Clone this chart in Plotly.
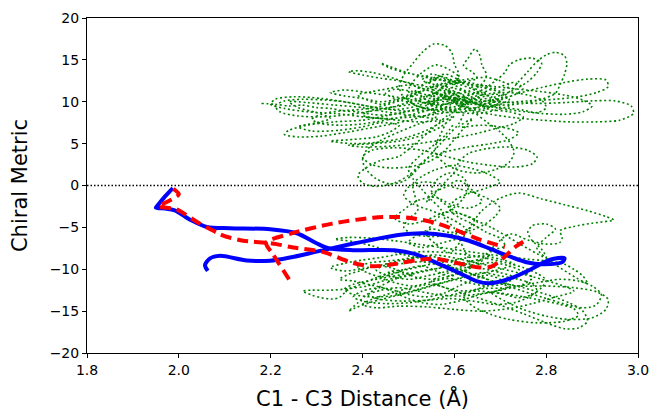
import plotly.graph_objects as go

# ---------------- data ----------------
x_ticks = [1.8, 2.0, 2.2, 2.4, 2.6, 2.8, 3.0]
y_ticks = [-20, -15, -10, -5, 0, 5, 10, 15, 20]

blue_path = [
    (1.987, -0.3), (1.97, -1.3), (1.955, -2.3), (1.95, -2.65), (1.97, -2.75), (1.991, -2.97),
    (2.027, -4.16), (2.061, -4.95), (2.111, -5.1), (2.199, -5.22), (2.257, -5.7), (2.3, -6.9),
    (2.326, -7.5), (2.379, -7.72), (2.469, -7.72), (2.515, -8.2), (2.56, -9.2), (2.605, -10.3),
    (2.65, -11.45), (2.677, -11.68), (2.722, -11.1), (2.767, -10.0), (2.794, -9.2), (2.817, -8.75),
    (2.84, -8.7), (2.835, -9.15), (2.79, -9.4), (2.76, -9.2), (2.722, -8.5), (2.68, -7.6),
    (2.632, -6.6), (2.587, -6.0), (2.533, -5.7), (2.478, -5.9), (2.424, -6.45), (2.37, -7.05),
    (2.3, -7.9), (2.242, -8.6), (2.199, -8.98), (2.148, -8.95), (2.09, -8.4), (2.068, -8.7),
    (2.057, -9.5), (2.063, -10.2),
]

red_path = [
    (1.988, -0.4), (2.0, -1.05), (1.955, -2.55), (1.966, -2.6), (1.995, -2.84), (2.01, -3.3),
    (2.039, -4.33), (2.061, -5.0), (2.086, -5.72), (2.104, -6.12), (2.14, -6.6), (2.162, -6.72),
    (2.191, -6.84), (2.213, -7.0), (2.249, -7.4), (2.315, -7.95), (2.379, -9.25), (2.424, -9.65),
    (2.478, -9.3), (2.515, -8.95), (2.56, -8.75), (2.605, -9.25), (2.65, -9.75), (2.68, -9.7),
    (2.706, -8.7), (2.731, -7.4), (2.758, -6.45),
    (None, None),
    (2.24, -11.2), (2.205, -8.2), (2.19, -6.85), (2.244, -5.74), (2.334, -4.55), (2.424, -3.84),
    (2.478, -3.76), (2.515, -3.96), (2.56, -4.48), (2.605, -5.35), (2.65, -6.34), (2.695, -7.13),
    (2.71, -7.35),
]

green_path = [
    # left tail into the upper cluster
    (2.18, 9.8), (2.21, 9.7), (2.24, 9.5), (2.27, 9.6), (2.30, 9.3), (2.33, 9.2), (2.36, 8.9),
    (2.39, 8.8), (2.42, 8.5), (2.45, 8.4), (2.48, 8.6), (2.51, 9.0), (2.54, 9.6), (2.56, 10.3),
    (2.58, 10.9), (2.60, 11.2), (2.62, 10.8), (2.63, 10.1), (2.61, 9.5), (2.58, 9.3), (2.55, 9.8),
    (2.53, 10.6), (2.52, 11.5), (2.54, 12.3), (2.57, 12.6), (2.60, 12.0), (2.62, 11.4), (2.65, 11.0),
    (2.68, 10.6), (2.70, 10.0), (2.68, 9.4), (2.64, 9.0), (2.60, 8.7), (2.56, 8.9),
    # loop to top peak
    (2.52, 9.5), (2.49, 10.5), (2.48, 11.8), (2.49, 13.2), (2.51, 14.6), (2.53, 15.9), (2.555, 16.9),
    (2.58, 16.7), (2.595, 15.8), (2.60, 14.5), (2.61, 13.2), (2.60, 12.0), (2.58, 11.0), (2.56, 10.2),
    (2.55, 9.5),
    # lower-left loops
    (2.50, 8.9), (2.45, 8.3), (2.40, 7.8), (2.34, 7.6), (2.28, 7.2), (2.24, 6.6), (2.23, 6.1),
    (2.26, 5.8), (2.31, 5.9), (2.36, 6.3), (2.41, 6.8), (2.46, 7.3), (2.51, 7.9), (2.55, 8.6),
    (2.59, 9.6), (2.61, 10.5),
    # upper-left loop
    (2.58, 11.3), (2.53, 11.9), (2.48, 12.5), (2.44, 12.8), (2.40, 13.2), (2.37, 13.6), (2.39, 13.7),
    (2.42, 13.5), (2.45, 13.1), (2.49, 12.4), (2.53, 11.6), (2.57, 10.8), (2.60, 10.2), (2.64, 9.7),
    (2.67, 9.8), (2.70, 10.4),
    # upper-right loop
    (2.72, 11.2), (2.74, 12.4), (2.76, 13.6), (2.78, 14.8), (2.80, 15.6), (2.82, 15.9), (2.84, 15.5),
    (2.845, 14.5), (2.84, 13.3), (2.83, 12.0), (2.82, 11.0), (2.79, 10.3), (2.75, 9.8), (2.70, 9.6),
    (2.65, 9.9), (2.60, 10.4),
    # dense core
    (2.57, 10.9), (2.55, 11.6), (2.57, 12.2), (2.59, 11.5), (2.61, 10.9), (2.60, 10.1), (2.57, 9.6),
    (2.54, 10.2), (2.52, 10.8), (2.50, 10.3), (2.51, 9.7), (2.54, 9.2), (2.58, 9.0), (2.62, 9.4),
    (2.64, 10.2), (2.63, 11.0), (2.60, 11.6), (2.56, 12.0), (2.53, 12.6), (2.55, 13.3), (2.58, 12.8),
    (2.61, 12.1), (2.64, 11.5), (2.66, 10.8), (2.63, 10.3), (2.59, 10.6), (2.56, 11.0), (2.53, 10.5),
    (2.50, 10.0), (2.47, 10.4), (2.45, 11.0), (2.47, 11.5), (2.51, 11.2), (2.55, 10.7), (2.59, 10.2),
    (2.62, 9.6), (2.60, 9.0),
    (2.55, 10.6), (2.58, 11.8), (2.61, 12.9), (2.59, 13.8), (2.56, 14.4), (2.53, 13.5), (2.51, 12.4),
    (2.50, 11.3), (2.52, 10.2), (2.56, 9.4), (2.60, 8.8), (2.65, 8.6), (2.69, 9.0), (2.72, 9.6),
    (2.71, 10.7), (2.68, 11.6), (2.64, 12.2), (2.60, 12.5), (2.57, 13.0), (2.545, 12.1), (2.56, 11.2),
    (2.59, 10.5), (2.63, 10.0), (2.67, 9.5), (2.71, 9.3), (2.75, 9.0), (2.78, 8.7), (2.80, 9.3),
    (2.79, 10.2), (2.76, 10.8), (2.72, 11.1), (2.68, 11.0), (2.64, 10.6), (2.61, 10.2), (2.58, 9.7),
    (2.55, 9.1), (2.51, 8.5), (2.47, 8.0), (2.43, 7.6), (2.39, 7.3), (2.35, 7.2), (2.31, 7.4),
    (2.29, 7.9), (2.31, 8.5), (2.35, 8.9), (2.40, 9.1), (2.45, 9.6), (2.49, 10.3), (2.52, 11.0),
    (2.55, 11.7), (2.59, 12.3), (2.63, 12.7), (2.67, 12.9), (2.70, 12.5), (2.72, 11.9), (2.70, 11.3),
    (2.66, 11.7), (2.61, 12.3), (2.55, 12.9), (2.50, 13.4), (2.46, 14.0), (2.44, 14.6), (2.46, 14.2),
    (2.49, 13.6), (2.53, 13.0), (2.58, 12.5), (2.63, 12.1), (2.69, 11.8), (2.74, 11.5), (2.79, 11.2),
    (2.84, 10.8), (2.88, 10.2), (2.90, 9.5), (2.88, 8.8), (2.84, 8.5), (2.79, 8.6), (2.74, 8.9),
    (2.69, 9.3), (2.65, 9.7),
    (2.62, 10.4), (2.66, 11.4), (2.69, 12.5), (2.71, 13.5), (2.72, 14.4), (2.74, 15.0), (2.77, 15.2),
    (2.79, 14.6), (2.78, 13.5), (2.76, 12.4), (2.73, 11.4), (2.69, 10.6), (2.64, 10.1),
    (2.60, 9.4), (2.55, 9.0), (2.49, 8.9), (2.43, 9.3), (2.37, 9.9), (2.31, 10.4), (2.25, 10.6),
    (2.21, 10.3), (2.20, 9.7), (2.23, 9.2), (2.28, 8.8), (2.34, 8.6), (2.40, 8.2), (2.46, 7.9),
    (2.52, 7.6), (2.57, 7.8),
    (2.45, 8.8), (2.40, 9.3), (2.34, 9.6), (2.28, 9.9), (2.24, 10.0), (2.26, 9.3), (2.30, 8.7),
    (2.33, 8.0), (2.30, 7.5), (2.26, 7.0), (2.29, 6.5), (2.35, 6.6), (2.40, 7.0), (2.44, 7.5),
    (2.48, 7.2), (2.46, 6.4), (2.43, 5.8), (2.38, 5.5), (2.33, 5.3), (2.38, 5.0), (2.44, 5.2),
    (2.50, 5.8), (2.54, 6.6), (2.57, 7.5),
    (2.60, 8.3), (2.57, 7.0), (2.53, 6.0), (2.48, 5.3), (2.42, 5.0), (2.37, 4.8), (2.40, 4.6),
    (2.46, 4.7), (2.52, 5.0), (2.58, 5.5), (2.64, 6.1), (2.69, 6.8), (2.73, 7.4), (2.75, 8.2),
    (2.72, 8.8), (2.67, 9.2),
    # far-right loop
    (2.66, 10.0), (2.72, 9.9), (2.78, 9.8), (2.84, 9.9), (2.90, 10.1), (2.95, 10.1), (2.985, 9.5),
    (2.99, 8.6), (2.96, 7.8), (2.91, 7.6), (2.85, 7.6), (2.79, 7.8), (2.73, 8.1), (2.68, 8.5),
    (2.64, 9.0),
    (2.66, 9.6), (2.70, 10.2), (2.74, 11.0), (2.79, 11.7), (2.84, 12.3), (2.89, 12.7), (2.93, 12.6),
    (2.935, 11.8), (2.91, 11.1), (2.87, 10.6), (2.82, 10.3), (2.76, 10.1), (2.70, 9.9), (2.64, 10.3),
    (2.60, 10.8), (2.57, 11.4), (2.58, 12.0), (2.62, 12.4), (2.65, 12.8), (2.64, 13.5), (2.62, 14.3),
    (2.63, 15.2), (2.645, 16.3), (2.655, 15.6), (2.66, 14.4), (2.67, 13.2), (2.66, 12.1), (2.63, 11.2),
    (2.59, 10.7), (2.55, 10.1), (2.52, 9.5), (2.48, 9.1), (2.44, 9.2), (2.40, 9.6), (2.36, 10.0),
    (2.32, 10.2), (2.27, 10.3), (2.23, 10.1), (2.21, 9.5), (2.22, 8.8), (2.26, 8.3), (2.31, 8.2),
    (2.36, 8.4), (2.41, 8.8), (2.46, 9.3), (2.50, 9.9), (2.55, 10.4),
    (2.58, 10.0), (2.61, 10.6), (2.59, 11.3), (2.56, 11.8), (2.53, 11.3), (2.50, 10.7), (2.47, 10.1),
    (2.44, 9.7), (2.41, 10.2), (2.39, 10.8), (2.42, 11.2), (2.46, 11.6), (2.50, 12.0), (2.54, 11.4),
    (2.57, 10.7), (2.60, 10.0), (2.63, 9.3), (2.66, 8.9), (2.68, 9.8), (2.67, 10.9), (2.64, 11.7),
    (2.61, 12.6), (2.58, 13.3), (2.55, 12.7), (2.53, 11.9), (2.51, 11.1), (2.48, 10.4), (2.44, 10.0),
    (2.40, 10.4), (2.36, 10.7), (2.33, 11.1), (2.36, 11.4), (2.41, 11.1), (2.46, 10.7), (2.51, 10.2),
    (2.56, 9.7), (2.61, 9.9), (2.65, 10.4), (2.69, 10.9), (2.72, 10.3), (2.70, 9.7), (2.66, 9.4),
    (2.62, 9.1), (2.57, 8.6), (2.53, 8.3), (2.49, 8.1), (2.44, 8.0), (2.40, 8.4), (2.42, 9.0),
    (2.47, 9.4), (2.52, 9.8), (2.57, 10.2), (2.62, 10.7), (2.66, 11.1), (2.70, 11.8), (2.73, 12.3),
    (2.75, 11.6), (2.73, 10.8), (2.68, 10.2), (2.63, 9.9), (2.58, 10.3), (2.54, 10.8),
    # loop down to the middle
    (2.56, 8.2), (2.52, 7.3), (2.48, 6.4), (2.44, 5.4), (2.41, 4.3), (2.40, 3.0), (2.41, 1.8),
    (2.43, 0.8), (2.46, 0.2), (2.49, 0.5), (2.51, 1.4), (2.53, 2.6), (2.55, 3.8), (2.57, 5.0),
    (2.59, 6.2), (2.61, 7.4), (2.62, 8.5), (2.63, 9.5),
    (2.60, 9.8), (2.64, 8.8), (2.67, 7.6), (2.70, 6.4), (2.72, 5.2), (2.73, 4.0), (2.72, 2.8),
    (2.69, 1.9), (2.65, 1.5), (2.61, 1.8), (2.58, 2.6), (2.56, 3.7), (2.56, 4.9), (2.57, 6.1),
    (2.58, 7.3), (2.59, 8.5),
    (2.48, 3.5), (2.44, 3.0), (2.41, 2.2), (2.39, 1.2), (2.40, 0.3), (2.43, -0.1), (2.47, 0.3),
    (2.50, 1.2), (2.52, 2.2), (2.54, 3.2), (2.58, 4.0), (2.63, 4.6), (2.68, 5.0), (2.72, 5.5),
    (2.74, 6.3), (2.71, 6.9), (2.66, 7.2), (2.61, 7.0),
    (2.64, 8.0), (2.62, 6.8), (2.60, 5.5), (2.58, 4.2), (2.55, 3.0), (2.51, 2.3), (2.46, 2.1),
    (2.42, 2.5), (2.40, 3.4), (2.42, 4.2), (2.47, 4.5), (2.53, 4.2), (2.58, 3.5), (2.63, 2.8),
    (2.68, 2.4), (2.73, 2.2), (2.77, 2.6), (2.78, 3.4), (2.76, 4.2), (2.72, 4.6), (2.67, 4.4),
    (2.63, 3.8), (2.61, 2.8), (2.60, 1.6), (2.58, 0.4), (2.56, -0.8), (2.54, -2.0),
    (2.55, -1.0), (2.58, -0.2), (2.61, 0.6), (2.64, -0.6), (2.66, -1.9), (2.63, -2.7), (2.59, -2.2),
    (2.56, -1.4), (2.52, -1.8), (2.49, -2.9), (2.47, -3.9), (2.50, -4.6), (2.54, -4.1), (2.58, -3.2),
    (2.62, -3.5), (2.65, -4.3), (2.63, -5.2), (2.59, -5.6), (2.55, -5.2), (2.52, -5.9), (2.50, -6.8),
    (2.53, -7.4), (2.57, -6.9), (2.61, -6.4), (2.65, -6.8), (2.68, -7.6), (2.71, -7.2), (2.70, -6.3),
    (2.67, -5.6), (2.64, -4.6), (2.61, -3.8), (2.59, -2.9), (2.60, -1.8), (2.63, -1.0), (2.67, -0.3),
    (2.70, 0.4), (2.68, 1.2), (2.64, 2.0), (2.60, 2.4), (2.56, 1.9), (2.53, 1.1), (2.51, 0.2),
    (2.52, -3.0), (2.50, -4.0), (2.49, -5.0), (2.51, -5.8), (2.55, -6.1), (2.60, -5.8), (2.64, -5.3),
    (2.67, -4.5), (2.69, -3.6), (2.70, -2.7), (2.68, -1.8), (2.65, -1.0), (2.61, -0.4), (2.57, 0.2),
    (2.53, 0.4), (2.50, -0.2), (2.49, -1.2), (2.51, -2.2), (2.55, -3.0), (2.59, -3.9), (2.62, -4.9),
    (2.64, -6.0), (2.66, -7.1), (2.68, -8.0),
    # lower cluster
    (2.62, -10.3), (2.59, -10.8), (2.56, -10.2), (2.53, -9.6), (2.50, -9.9), (2.47, -10.5),
    (2.44, -10.9), (2.41, -10.4), (2.39, -9.7), (2.42, -9.2), (2.46, -9.0), (2.50, -8.7), (2.54, -8.4),
    (2.58, -8.8), (2.62, -9.3), (2.66, -9.9), (2.70, -10.4), (2.73, -11.0), (2.71, -11.7), (2.67, -12.0),
    (2.63, -11.6), (2.59, -11.1), (2.55, -11.5), (2.51, -12.0), (2.47, -11.6), (2.44, -11.0),
    (2.46, -10.3), (2.50, -10.0), (2.54, -9.5), (2.58, -9.1), (2.62, -8.7), (2.66, -8.4), (2.70, -8.8),
    (2.73, -9.4), (2.70, -10.0), (2.66, -10.5),
    (2.62, -11.0), (2.57, -11.7), (2.52, -12.5), (2.47, -13.2), (2.42, -13.9), (2.385, -14.6),
    (2.37, -15.0), (2.39, -14.0), (2.41, -13.0), (2.44, -12.0), (2.47, -11.2), (2.51, -10.6),
    (2.47, -10.4), (2.43, -11.0), (2.40, -11.7), (2.37, -12.3), (2.33, -12.5), (2.29, -12.5),
    (2.27, -12.6), (2.29, -13.1), (2.31, -13.4), (2.335, -13.55), (2.35, -13.35), (2.37, -12.4),
    (2.41, -12.0), (2.45, -11.3), (2.49, -10.8),
    (2.66, -8.8), (2.62, -9.6), (2.58, -10.3), (2.54, -10.8), (2.50, -11.2), (2.46, -10.8),
    (2.43, -10.1), (2.45, -9.5), (2.49, -9.3), (2.53, -9.1), (2.57, -9.5), (2.61, -10.0), (2.65, -10.8),
    (2.68, -11.5), (2.66, -12.2), (2.62, -12.6), (2.58, -12.2), (2.55, -11.5), (2.57, -10.8),
    (2.60, -10.2), (2.64, -9.6), (2.68, -9.2), (2.72, -9.6), (2.75, -10.3), (2.77, -11.0),
    (2.75, -11.8), (2.71, -12.4), (2.66, -12.9), (2.61, -13.2), (2.56, -13.0), (2.52, -12.6),
    (2.48, -12.2), (2.44, -12.5), (2.41, -13.1), (2.44, -13.6), (2.49, -13.8), (2.54, -13.7),
    (2.59, -13.5), (2.64, -13.8), (2.69, -14.2), (2.73, -14.0), (2.76, -13.4), (2.78, -12.6),
    (2.77, -11.8), (2.74, -11.2), (2.70, -10.8), (2.66, -10.4), (2.62, -10.9), (2.58, -11.5),
    (2.54, -12.1), (2.50, -12.7), (2.46, -13.2), (2.42, -13.3), (2.38, -13.0), (2.36, -12.4),
    (2.38, -11.8), (2.42, -11.3), (2.46, -10.9), (2.50, -10.5), (2.54, -10.1), (2.58, -9.7),
    (2.60, -9.0), (2.63, -9.8), (2.60, -10.6), (2.56, -11.2), (2.52, -11.0), (2.49, -10.4),
    (2.46, -9.8), (2.43, -9.6), (2.40, -10.1), (2.37, -10.6), (2.35, -11.2), (2.38, -11.4),
    (2.42, -11.9), (2.46, -12.4), (2.50, -13.0), (2.54, -13.3), (2.58, -12.8), (2.61, -12.0),
    (2.64, -11.3), (2.67, -10.7), (2.70, -11.2), (2.72, -12.0), (2.69, -12.6), (2.65, -13.1),
    (2.61, -13.8), (2.57, -14.2), (2.53, -14.0), (2.50, -13.5), (2.47, -12.8), (2.44, -12.2),
    (2.40, -12.6), (2.38, -13.3), (2.40, -13.8), (2.45, -14.1), (2.50, -14.0), (2.55, -13.6),
    (2.60, -13.0), (2.65, -12.6), (2.70, -12.9), (2.74, -13.4), (2.77, -13.0), (2.79, -12.2),
    (2.80, -11.3), (2.78, -10.5), (2.75, -9.8), (2.71, -9.2), (2.67, -8.7), (2.63, -8.3),
    (2.58, -8.0), (2.53, -7.9), (2.48, -8.2), (2.44, -8.6), (2.40, -8.9), (2.36, -9.3),
    (2.33, -9.8), (2.36, -10.2), (2.40, -9.9), (2.44, -9.5), (2.48, -9.0), (2.52, -8.6), (2.56, -8.3),
    (2.86, -12.6), (2.82, -13.3), (2.77, -14.1), (2.72, -14.7), (2.66, -15.0), (2.60, -14.8),
    (2.54, -14.5), (2.48, -14.4), (2.43, -14.6), (2.40, -14.2), (2.42, -13.6),
    # bottom-right loops
    (2.55, -11.8), (2.60, -12.6), (2.65, -13.4), (2.70, -14.3), (2.75, -15.3), (2.80, -16.4),
    (2.84, -17.1), (2.87, -17.0), (2.89, -16.2), (2.88, -15.0), (2.85, -14.0), (2.80, -13.0),
    (2.75, -12.2), (2.70, -11.6),
    (2.74, -12.0), (2.80, -12.0), (2.86, -12.2), (2.91, -12.7), (2.935, -13.6), (2.93, -14.8),
    (2.90, -15.8), (2.85, -16.0), (2.80, -15.6), (2.75, -14.8), (2.71, -13.8), (2.68, -12.8),
    (2.72, -13.0), (2.78, -13.6), (2.83, -14.2), (2.86, -14.7), (2.87, -15.5), (2.84, -16.2),
    (2.78, -16.4), (2.72, -16.0), (2.68, -15.4), (2.64, -14.4), (2.62, -13.2),
    (2.65, -12.4), (2.72, -12.2), (2.78, -11.6), (2.83, -11.2), (2.87, -11.4), (2.90, -12.0),
    (2.92, -13.0), (2.91, -14.2), (2.88, -14.6),
    (2.55, -9.0), (2.50, -8.4), (2.46, -7.8), (2.42, -7.2), (2.38, -6.7), (2.34, -6.4), (2.37, -6.2),
    (2.42, -6.3), (2.47, -6.6), (2.52, -7.0), (2.57, -7.4), (2.62, -7.8), (2.67, -8.2), (2.72, -8.5),
    (2.76, -8.8), (2.80, -9.0), (2.84, -9.4), (2.86, -10.0), (2.88, -10.8), (2.89, -11.7),
    (2.78, -7.5), (2.80, -6.2), (2.82, -5.2), (2.80, -4.6), (2.77, -4.8), (2.76, -5.6), (2.77, -6.6),
    (2.79, -7.6), (2.80, -8.6),
    (2.68, -5.0), (2.64, -4.0), (2.60, -3.0), (2.57, -1.8), (2.55, -0.6), (2.56, 0.6), (2.59, 1.5),
    (2.62, 0.9), (2.63, -0.3), (2.62, -1.5), (2.60, -2.6), (2.57, -3.6), (2.55, -4.7), (2.54, -5.9),
    (2.56, -7.0), (2.59, -8.0),
    # excursion to the right of the middle
    (2.66, -3.0), (2.70, -1.5), (2.74, -0.9), (2.79, -1.6), (2.84, -2.3), (2.89, -3.0), (2.93, -3.7),
    (2.947, -4.1), (2.90, -4.5), (2.86, -4.9), (2.83, -5.4), (2.835, -6.2), (2.83, -6.8), (2.80, -7.0),
    (2.76, -6.5), (2.72, -5.8),
    # back up to the upper cluster
    (2.64, -9.5), (2.63, -8.6), (2.62, -7.5), (2.61, -6.3), (2.60, -5.1), (2.58, -4.0), (2.57, -2.8),
    (2.55, -1.7), (2.53, -0.5), (2.51, 0.8), (2.50, 2.0), (2.52, 3.3), (2.55, 4.6), (2.58, 6.0),
    (2.60, 7.5),
]

# ---------------- figure ----------------
def xs(path):
    return [p[0] for p in path]


def ys(path):
    return [p[1] for p in path]


fig = go.Figure()

fig.add_trace(go.Scatter(
    x=[1.8, 3.0], y=[0, 0], mode="lines",
    line=dict(color="black", width=1.5, dash="1.5px,2px"), hoverinfo="skip", showlegend=False))

fig.add_trace(go.Scatter(
    x=xs(green_path), y=ys(green_path), mode="lines",
    line=dict(color="#008000", width=1.6, dash="2px,2.6px", shape="spline", smoothing=0.8),
    showlegend=False))

fig.add_trace(go.Scatter(
    x=xs(blue_path), y=ys(blue_path), mode="lines",
    line=dict(color="#0000ff", width=4, shape="spline", smoothing=0.8),
    showlegend=False))

fig.add_trace(go.Scatter(
    x=xs(red_path), y=ys(red_path), mode="lines",
    line=dict(color="#ff0000", width=4, dash="11px,6px", shape="spline", smoothing=0.8),
    showlegend=False))

axis_common = dict(
    showline=True, linecolor="black", linewidth=1, mirror=True,
    ticks="outside", ticklen=4, tickwidth=1, tickcolor="black",
    showgrid=False, zeroline=False, automargin=False,
    tickfont=dict(family="DejaVu Sans", size=14, color="black"),
)

fig.update_xaxes(
    range=[1.8, 3.0], tickvals=x_ticks, ticktext=[f"{v:.1f}" for v in x_ticks],
    title=dict(text="C1 - C3 Distance (Å)", font=dict(family="DejaVu Sans", size=21, color="black"),
               standoff=22),
    **axis_common)
fig.update_yaxes(
    range=[-20, 20], tickvals=y_ticks,
    title=dict(text="Chiral Metric", font=dict(family="DejaVu Sans", size=21, color="black"),
               standoff=16),
    **axis_common)

fig.update_layout(
    width=651, height=411,
    margin=dict(l=87, r=13, t=18, b=58),
    plot_bgcolor="white", paper_bgcolor="white",
    showlegend=False,
)

fig.write_html("out.html")
